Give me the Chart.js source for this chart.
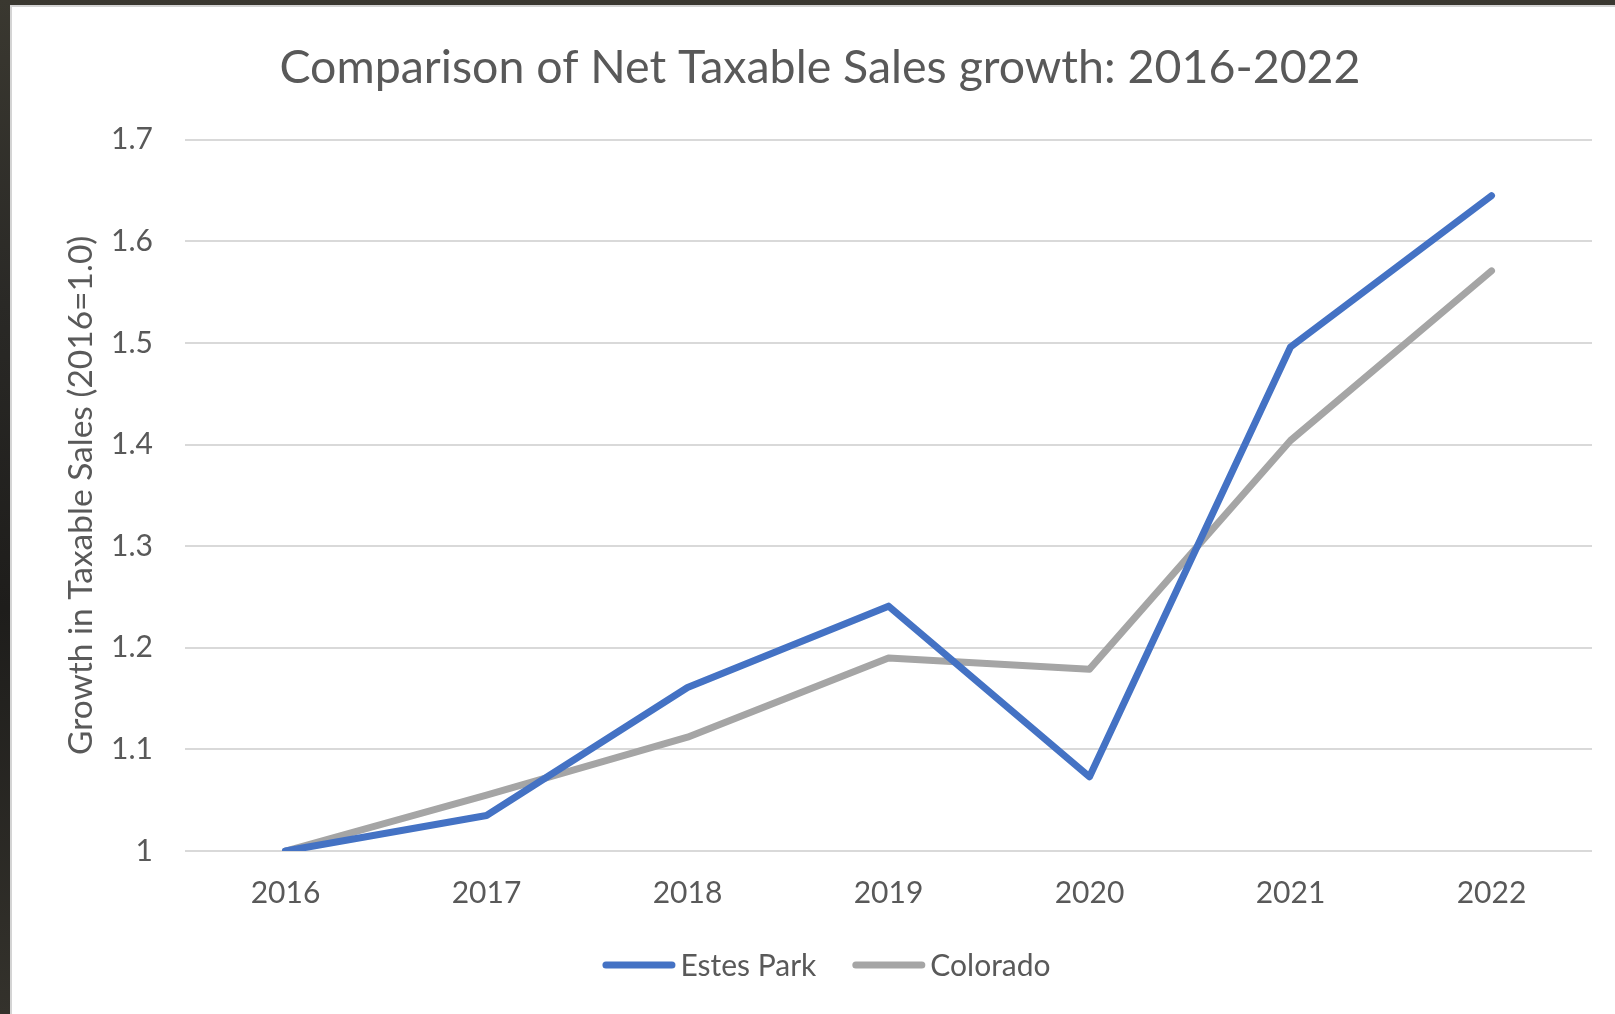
<!DOCTYPE html>
<html>
<head>
<meta charset="utf-8">
<title>Comparison of Net Taxable Sales growth: 2016-2022</title>
<script src="https://cdn.jsdelivr.net/npm/chart.js@4.4.1/dist/chart.umd.min.js"></script>
<style>
  html, body { margin: 0; padding: 0; }
  body {
    width: 1615px; height: 1014px; overflow: hidden; position: relative;
    background: linear-gradient(180deg, #3a3830 0%, #2a2926 30%, #1e1d1b 60%, #34322c 100%);
  }
  #panel {
    position: absolute; left: 10px; top: 5px; right: 0; bottom: 0;
    background: #ffffff;
    border-left: 2px solid #d4d4d4; border-top: 2px solid #d4d4d4;
  }
  #wrap { position: absolute; left: 0; top: 0; width: 1603px; height: 1007px; }
</style>
</head>
<body>
<div id="panel"><div id="wrap"><canvas id="chart"></canvas></div></div>
<script>
// Net taxable sales, indexed to 2016 = 1.0
const years = ['2016', '2017', '2018', '2019', '2020', '2021', '2022'];
const estesPark = [1.0, 1.035, 1.161, 1.241, 1.073, 1.496, 1.645];
const colorado = [1.0, 1.055, 1.112, 1.19, 1.179, 1.404, 1.571];
const yTickValues = [1, 1.1, 1.2, 1.3, 1.4, 1.5, 1.6, 1.7];

const FONT = "Lato, 'Open Sans', sans-serif";
const TEXT = '#595959';
const LEGEND_FONT_SIZE = 30;

// Bottom legend: a short rounded line swatch per series, label close beside it
const bottomLegend = {
  id: 'bottomLegend',
  afterDraw(chart) {
    const ctx = chart.ctx;
    const swatch = 73, gapText = 5, gapItem = 36;
    ctx.save();
    ctx.font = `${LEGEND_FONT_SIZE}px ${FONT}`;
    const items = chart.data.datasets.map(ds => ({
      label: ds.label, color: ds.borderColor, width: ctx.measureText(ds.label).width
    }));
    const total = items.reduce((s, it) => s + swatch + gapText + it.width, 0) + gapItem * (items.length - 1);
    let x = chart.width / 2 + 13 - total / 2;
    const y = chart.height - 49;
    ctx.textBaseline = 'middle';
    ctx.textAlign = 'left';
    items.forEach(it => {
      ctx.beginPath();
      ctx.strokeStyle = it.color;
      ctx.lineWidth = 7;
      ctx.lineCap = 'round';
      ctx.moveTo(x + 3.5, y);
      ctx.lineTo(x + swatch - 3.5, y);
      ctx.stroke();
      x += swatch + gapText;
      ctx.fillStyle = TEXT;
      ctx.fillText(it.label, x, y + 1);
      x += it.width + gapItem;
    });
    ctx.restore();
  }
};

new Chart(document.getElementById('chart'), {
  type: 'line',
  data: {
    labels: years,
    datasets: [
      {
        label: 'Estes Park', data: estesPark,
        borderColor: '#4472C4', backgroundColor: '#4472C4',
        borderWidth: 7, pointRadius: 0, pointHoverRadius: 0,
        borderCapStyle: 'round', borderJoinStyle: 'round', tension: 0
      },
      {
        label: 'Colorado', data: colorado,
        borderColor: '#A5A5A5', backgroundColor: '#A5A5A5',
        borderWidth: 7, pointRadius: 0, pointHoverRadius: 0,
        borderCapStyle: 'round', borderJoinStyle: 'round', tension: 0
      }
    ]
  },
  plugins: [bottomLegend],
  options: {
    responsive: true,
    maintainAspectRatio: false,
    animation: false,
    layout: { padding: { left: 36, right: 23, top: 0, bottom: 79 } },
    plugins: {
      tooltip: { enabled: false },
      legend: { display: false },
      title: {
        display: true,
        text: 'Comparison of Net Taxable Sales growth: 2016-2022',
        color: TEXT,
        font: { family: FONT, size: 46.5, weight: 'normal', lineHeight: 1.2 },
        padding: { top: 33, bottom: 44 }
      }
    },
    scales: {
      x: {
        offset: true,
        grid: { display: false, drawTicks: false },
        border: { display: false },
        ticks: { color: TEXT, font: { family: FONT, size: 30 }, padding: 24, maxRotation: 0 }
      },
      y: {
        min: 1, max: 1.7,
        afterBuildTicks: (scale) => { scale.ticks = yTickValues.map(v => ({ value: v })); },
        afterFit: (scale) => { scale.width = 137; },
        grid: { color: '#D9D9D9', lineWidth: 2, drawTicks: false },
        border: { display: false },
        ticks: {
          color: TEXT, font: { family: FONT, size: 30 }, padding: 32,
          callback: (v) => String(Math.round(v * 10) / 10)
        },
        title: {
          display: true,
          text: 'Growth in Taxable Sales (2016=1.0)',
          color: TEXT,
          font: { family: FONT, size: 33.5, weight: 'normal', lineHeight: 1.2 },
          padding: { top: 13, bottom: 0 }
        }
      }
    }
  }
});
</script>
</body>
</html>
